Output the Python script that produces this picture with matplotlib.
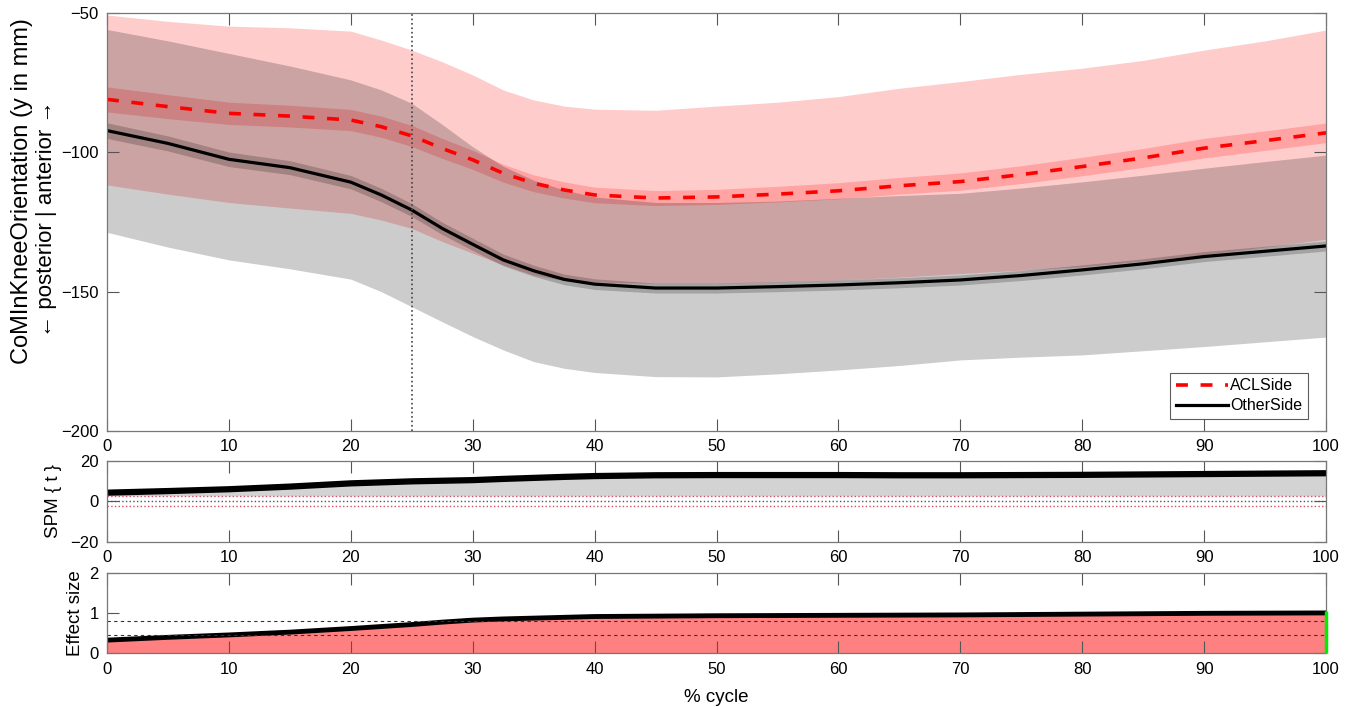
import numpy as np
import matplotlib.pyplot as plt

plt.rcParams['font.family'] = ['Liberation Sans', 'DejaVu Sans']

# % cycle sample points
cycle = [0, 5, 10, 15, 20, 22.5, 25, 27.5, 30, 32.5, 35, 37.5, 40, 45, 50,
         55, 60, 65, 70, 75, 80, 85, 90, 95, 100]

# ACL side: mean, SD band edges, SE half width (mm)
acl_mean = [-81.0, -83.6, -86.0, -87.0, -88.4, -90.8, -94.1, -98.6, -102.7, -107.5, -111.1, -113.5, -115.3,
            -116.4, -116.0, -115.0, -113.8, -112.0, -110.5, -108.0, -105.1, -102.0, -98.5, -95.8, -93.0]
acl_hi = [-50.7, -53.0, -54.7, -55.3, -56.5, -59.7, -63.3, -67.5, -72.2, -77.6, -81.2, -83.4, -84.5,
          -84.9, -83.4, -82.0, -80.0, -77.0, -74.6, -72.0, -69.8, -67.0, -63.3, -60.0, -56.1]
acl_lo = [-111.7, -115.0, -118.0, -120.0, -121.9, -124.3, -127.3, -132.0, -136.2, -140.4, -144.0, -146.0, -146.5,
          -147.0, -147.0, -146.5, -145.8, -144.8, -143.5, -142.3, -141.0, -139.0, -136.8, -134.0, -131.2]
acl_se = [4.5, 4.3, 4.0, 3.9, 3.8, 3.8, 3.8, 3.6, 3.4, 3.2, 3.0, 2.9, 2.8,
          2.7, 2.7, 2.8, 2.9, 3.0, 3.1, 3.2, 3.3, 3.4, 3.5, 3.5, 3.5]

# other side
oth_mean = [-92.2, -96.8, -102.5, -105.5, -110.7, -115.3, -120.7, -127.3, -133.0, -138.6, -142.5, -145.6, -147.3,
            -148.7, -148.7, -148.2, -147.6, -146.8, -145.8, -144.2, -142.2, -140.0, -137.4, -135.5, -133.6]
oth_hi = [-55.9, -60.0, -64.5, -69.0, -74.0, -77.6, -82.4, -90.0, -98.0, -105.0, -110.0, -113.5, -116.0,
          -118.0, -118.0, -117.5, -116.5, -115.5, -114.7, -112.8, -110.6, -108.2, -105.7, -103.3, -101.0]
oth_lo = [-128.7, -134.0, -138.6, -141.8, -145.5, -150.0, -155.4, -160.8, -166.1, -170.9, -175.1, -177.5, -179.0,
          -180.5, -180.6, -179.5, -178.1, -176.5, -174.5, -173.5, -172.7, -171.2, -169.7, -168.0, -166.3]
oth_se = [2.8, 2.7, 2.6, 2.5, 2.4, 2.4, 2.3, 2.2, 2.2, 2.1, 2.0, 1.9, 1.9,
          1.8, 1.8, 1.8, 1.8, 1.8, 1.8, 1.8, 1.8, 1.8, 1.8, 1.8, 1.8]

# SPM{t} and effect size
spm_t = [4.2, 5.0, 5.9, 7.2, 8.8, 9.3, 9.8, 10.1, 10.4, 11.0, 11.5, 12.0, 12.4,
         12.8, 12.9, 12.9, 12.9, 12.8, 12.8, 12.9, 13.0, 13.2, 13.4, 13.6, 13.8]
t_crit = 2.6
effect = [0.33, 0.40, 0.46, 0.53, 0.62, 0.67, 0.72, 0.78, 0.83, 0.86, 0.88, 0.90, 0.92,
          0.93, 0.94, 0.945, 0.95, 0.955, 0.96, 0.97, 0.98, 0.99, 1.0, 1.005, 1.01]
effect_refs = [0.8, 0.47]
event_x = 25

x = np.array(cycle)
am, ase = np.array(acl_mean), np.array(acl_se)
om, ose = np.array(oth_mean), np.array(oth_se)

fig = plt.figure(figsize=(13.51, 7.07), dpi=100)
ax1 = fig.add_axes([0.0792, 0.3904, 0.9023, 0.5912])
ax2 = fig.add_axes([0.0792, 0.2338, 0.9023, 0.1146])
ax3 = fig.add_axes([0.0792, 0.0759, 0.9023, 0.1132])

# main panel
ax1.fill_between(x, acl_lo, acl_hi, color='red', alpha=0.2, lw=0)
ax1.fill_between(x, am - ase, am + ase, color='red', alpha=0.2, lw=0)
ax1.fill_between(x, oth_lo, oth_hi, color='black', alpha=0.2, lw=0)
ax1.fill_between(x, om - ose, om + ose, color='black', alpha=0.2, lw=0)
ax1.plot(x, am, '--', color='red', lw=2.6, dashes=(3.3, 3.5), label='ACLSide')
ax1.plot(x, om, '-', color='black', lw=2.3, label='OtherSide')
ax1.axvline(event_x, color='#444444', ls=':', lw=1.2)
ax1.set_ylim(-200, -50)
ax1.set_yticks([-200, -150, -100, -50])
leg = ax1.legend(loc='lower right', fancybox=False, edgecolor='#333333', fontsize=11.5,
                 handlelength=3.3, borderpad=0.35, labelspacing=0.3, handletextpad=0.1,
                 borderaxespad=0, bbox_to_anchor=(0.985, 0.029))
leg.get_frame().set_linewidth(0.8)
ax1.text(-0.0697, 0.574, 'CoMInKneeOrientation (y in mm)', transform=ax1.transAxes,
         rotation=90, ha='center', va='center', fontsize=17)
ax1.text(-0.050, 0.507, '\u2190 posterior | anterior \u2192', transform=ax1.transAxes,
         rotation=90, ha='center', va='center', fontsize=16)

# SPM panel
spm = np.array(spm_t)
ax2.fill_between(x, t_crit, spm, where=spm > t_crit, color='#d3d3d3', lw=0)
ax2.plot(x, spm, color='black', lw=4.5)
ax2.axhline(0, color='#555555', ls=':', lw=1)
ax2.axhline(t_crit, color='#d0506a', ls=':', lw=1)
ax2.axhline(-t_crit, color='#d0506a', ls=':', lw=1)
ax2.set_ylim(-20, 20)
ax2.set_yticks([-20, 0, 20])
ax2.text(-0.0435, 0.5, 'SPM { t }', transform=ax2.transAxes, rotation=90,
         ha='center', va='center', fontsize=13.5)

# effect size panel
ax3.fill_between(x, 0, effect, color='#ff8080', lw=0)
ax3.plot(x, effect, color='black', lw=3.5)
for r in effect_refs:
    ax3.axhline(r, color='#333333', ls='--', lw=0.8, dashes=(3, 3))
ax3.plot([100, 100], [0, effect[-1] + 0.05], color='#00ee00', lw=2.5,
         solid_capstyle='butt', clip_on=False, zorder=4)
ax3.set_ylim(0, 2)
ax3.set_yticks([0, 1, 2])
ax3.text(-0.026, 0.5, 'Effect size', transform=ax3.transAxes, rotation=90,
         ha='center', va='center', fontsize=13.5)
ax3.set_xlabel('% cycle', fontsize=13.5)
ax3.xaxis.set_label_coords(0.5, -0.45)

for ax in (ax1, ax2, ax3):
    ax.set_xlim(0, 100)
    ax.set_xticks(range(0, 101, 10))
    ax.tick_params(direction='in', length=8.5, width=0.8, color='#555555', labelsize=12,
                   top=True, right=True, pad=6)
    for s in ax.spines.values():
        s.set_color('#777777')
        s.set_linewidth(0.9)

fig.savefig('out.png', dpi=100)
